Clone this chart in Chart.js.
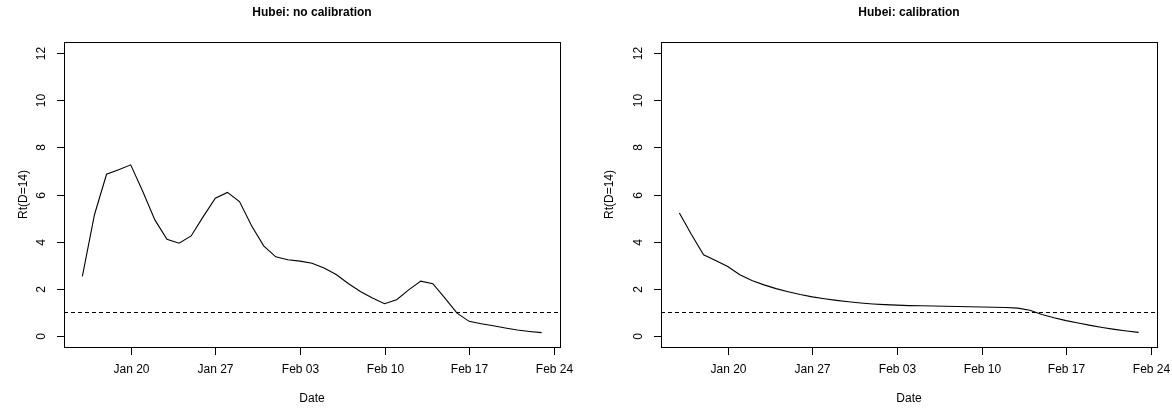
<!DOCTYPE html>
<html>
<head>
<meta charset="utf-8">
<script src="https://cdn.jsdelivr.net/npm/chart.js@4.4.1/dist/chart.umd.min.js"></script>
<style>
  html, body { margin: 0; padding: 0; background: #fff; }
  #wrap { position: relative; width: 1172px; height: 408px; }
  .panel { position: absolute; top: 0; width: 586px; height: 408px; }
</style>
</head>
<body>
<div id="wrap">
  <div class="panel" style="left:0"><canvas id="c1" width="586" height="408"></canvas></div>
  <div class="panel" style="left:586px"><canvas id="c2" width="586" height="408"></canvas></div>
</div>
<script>
// Day index 0 = Jan 16 ... 38 = Feb 23
const dayLabels = ["Jan 16","Jan 17","Jan 18","Jan 19","Jan 20","Jan 21","Jan 22","Jan 23","Jan 24","Jan 25",
  "Jan 26","Jan 27","Jan 28","Jan 29","Jan 30","Jan 31","Feb 01","Feb 02","Feb 03","Feb 04",
  "Feb 05","Feb 06","Feb 07","Feb 08","Feb 09","Feb 10","Feb 11","Feb 12","Feb 13","Feb 14",
  "Feb 15","Feb 16","Feb 17","Feb 18","Feb 19","Feb 20","Feb 21","Feb 22","Feb 23"];

const rtNoCalibration = [2.52,5.14,6.86,7.05,7.26,6.13,4.92,4.10,3.93,4.24,
  5.06,5.84,6.09,5.70,4.67,3.82,3.35,3.23,3.17,3.08,
  2.88,2.60,2.22,1.88,1.60,1.36,1.53,1.95,2.32,2.21,
  1.60,0.96,0.61,0.51,0.42,0.33,0.24,0.18,0.13];

const rtCalibration = [5.21,4.30,3.44,3.20,2.94,2.59,2.35,2.16,2.00,1.87,
  1.75,1.65,1.57,1.50,1.44,1.39,1.35,1.32,1.30,1.28,
  1.27,1.26,1.25,1.24,1.23,1.22,1.21,1.20,1.17,1.08,
  0.90,0.76,0.64,0.54,0.44,0.35,0.27,0.20,0.14];

// x tick positions (day index) and labels
const xTickDays = [4, 11, 18, 25, 32, 39];
const xTickLabels = ["Jan 20","Jan 27","Feb 03","Feb 10","Feb 17","Feb 24"];
const yTickValues = [0, 2, 4, 6, 8, 10, 12];
const yTickLabels = ["0","2","4","6","8","10","12"];
const threshold = 1;

const FONT = "'Liberation Sans', Arial, Helvetica, sans-serif";

function rAxesPlugin(opts) {
  return {
    id: 'rAxes',
    beforeDatasetsDraw(chart) {
      const ctx = chart.ctx, a = chart.chartArea, ys = chart.scales.y;
      // dashed reference line
      const yp = ys.getPixelForValue(threshold);
      ctx.save();
      ctx.beginPath();
      ctx.rect(a.left, a.top, a.right - a.left, a.bottom - a.top);
      ctx.clip();
      ctx.strokeStyle = '#000';
      ctx.lineWidth = 1;
      ctx.setLineDash([4, 3]);
      ctx.beginPath();
      ctx.moveTo(a.left, Math.round(yp) + 0.5);
      ctx.lineTo(a.right, Math.round(yp) + 0.5);
      ctx.stroke();
      ctx.restore();
    },
    afterDraw(chart) {
      const ctx = chart.ctx, a = chart.chartArea;
      const xs = chart.scales.x, ys = chart.scales.y;
      ctx.save();
      ctx.strokeStyle = '#000';
      ctx.fillStyle = '#000';
      ctx.lineWidth = 1;
      ctx.setLineDash([]);
      // box
      ctx.strokeRect(Math.round(a.left) + 0.5, Math.round(a.top) + 0.5,
        Math.round(a.right - a.left), Math.round(a.bottom - a.top));
      // x ticks
      ctx.font = '12px ' + FONT;
      ctx.textAlign = 'center';
      ctx.textBaseline = 'middle';
      xTickDays.forEach((d, i) => {
        const px = Math.round(xs.getPixelForValue(d)) + 0.5;
        ctx.beginPath();
        ctx.moveTo(px, a.bottom);
        ctx.lineTo(px, a.bottom + 8);
        ctx.stroke();
        ctx.fillText(xTickLabels[i], px, a.bottom + 23);
      });
      // y ticks (rotated labels)
      yTickValues.forEach((v, i) => {
        const py = Math.round(ys.getPixelForValue(v)) + 0.5;
        ctx.beginPath();
        ctx.moveTo(a.left, py);
        ctx.lineTo(a.left - 7, py);
        ctx.stroke();
        ctx.save();
        ctx.translate(a.left - 22.5, py);
        ctx.rotate(-Math.PI / 2);
        ctx.fillText(yTickLabels[i], 0, 0);
        ctx.restore();
      });
      // axis titles
      const cx = (a.left + a.right) / 2;
      ctx.fillText('Date', cx, 398.5);
      ctx.save();
      ctx.translate(opts.ylabX, (a.top + a.bottom) / 2);
      ctx.rotate(-Math.PI / 2);
      ctx.fillText('Rt(D=14)', 0, 0);
      ctx.restore();
      // main title
      ctx.font = 'bold 12px ' + FONT;
      ctx.fillText(opts.title, cx, 12.5);
      ctx.restore();
    }
  };
}

function makeChart(id, values, opts) {
  const points = values.map((v, i) => ({ x: i, y: v }));
  return new Chart(document.getElementById(id), {
    type: 'line',
    data: {
      datasets: [{
        label: opts.title,
        data: points,
        borderColor: '#000',
        borderWidth: 1.1,
        pointRadius: 0,
        tension: 0,
        fill: false
      }]
    },
    options: {
      responsive: false,
      animation: false,
      devicePixelRatio: 1,
      layout: { padding: opts.padding },
      plugins: { legend: { display: false }, tooltip: { enabled: false }, title: { display: false } },
      scales: {
        x: { type: 'linear', min: -1.52, max: 39.52, display: false },
        y: { type: 'linear', min: -0.48, max: 12.48, display: false }
      }
    },
    plugins: [rAxesPlugin(opts)]
  });
}

makeChart('c1', rtNoCalibration, {
  title: 'Hubei: no calibration',
  padding: { left: 64, top: 42, right: 26, bottom: 61 },
  ylabX: 24
});
makeChart('c2', rtCalibration, {
  title: 'Hubei: calibration',
  padding: { left: 75, top: 42, right: 15, bottom: 61 },
  ylabX: 24
});
</script>
</body>
</html>
